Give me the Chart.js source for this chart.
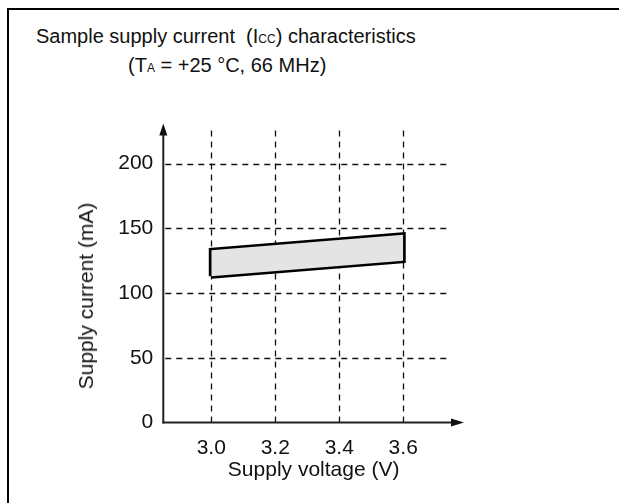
<!DOCTYPE html>
<html>
<head>
<meta charset="utf-8">
<script src="https://cdn.jsdelivr.net/npm/chart.js@4.4.1/dist/chart.umd.min.js"></script>
<style>
  html, body { margin: 0; padding: 0; background: #fff; }
  #wrap { position: relative; width: 619px; height: 503px; overflow: hidden;
          font-family: "Liberation Sans", Arial, sans-serif; color: #111; }
  #frame { position: absolute; left: 7px; top: 8px; width: 700px; height: 600px;
           border-left: 2px solid #000; border-top: 2px solid #000; }
  .ttl { position: absolute; font-size: 20px; white-space: nowrap; line-height: 24px; }
  #t1 { left: 36px; top: 24px; }
  #t2 { left: 128px; top: 53px; }
  .sm { font-size: 12px; }
  #ytit { position: absolute; left: 86px; top: 296px; font-size: 21px; white-space: nowrap;
          transform: translate(-50%, -50%) rotate(-90deg); }
  canvas { position: absolute; left: 0; top: 0; }
</style>
</head>
<body>
<div id="wrap">
  <div id="frame"></div>
  <div class="ttl" id="t1">Sample supply current &nbsp;(I<span class="sm">CC</span>) characteristics</div>
  <div class="ttl" id="t2">(T<span class="sm">A</span> = +25 °C, 66 MHz)</div>
  <canvas id="grafico" width="619" height="503"></canvas>
  <div id="ytit">Supply current (mA)</div>
</div>
<script>
// DATA
const voltages = [3.0, 3.6];
const currentMin = [113, 125];
const currentMax = [133, 145];
const xTicks = [3.0, 3.2, 3.4, 3.6];
const yTicks = [0, 50, 100, 150, 200];

// axis ranges (arrow tips and end of dashed grid)
const xMin = 2.85, xMax = 3.79, xGridEnd = 3.74;
const yMin = 0, yMax = 231, yGridEnd = 225.5;

const fonte = "'Liberation Sans', Arial, sans-serif";
const ink = "#111";

let baixo = voltages.map((v, i) => ({ x: v, y: currentMin[i] }));
let alto = voltages.map((v, i) => ({ x: v, y: currentMax[i] }));
// contorno fechado da faixa
let contorno = [baixo[0], baixo[1], alto[1], alto[0], baixo[0]];

function linha(ctx, a, b, c, d) {
  ctx.beginPath();
  ctx.moveTo(a, b);
  ctx.lineTo(c, d);
  ctx.stroke();
}

const decor = {
  id: "decor",
  beforeDatasetsDraw(chart) {
    const { ctx, scales: { x, y } } = chart;
    ctx.save();
    ctx.strokeStyle = ink;
    ctx.lineWidth = 1.3;
    ctx.setLineDash([6, 5]);
    const x0 = x.getPixelForValue(xMin);
    const x1 = x.getPixelForValue(xGridEnd);
    yTicks.filter(v => v > 0).forEach(v => {
      const py = Math.round(y.getPixelForValue(v)) + 0.5;
      linha(ctx, x0 + 2, py, x1, py);
    });
    const y0 = y.getPixelForValue(yMin);
    const y1 = y.getPixelForValue(yGridEnd);
    xTicks.forEach(v => {
      const px = Math.round(x.getPixelForValue(v)) + 0.5;
      linha(ctx, px, y0, px, y1);
    });
    ctx.restore();
  },
  afterDatasetsDraw(chart) {
    const { ctx, scales: { x, y } } = chart;
    const ox = x.getPixelForValue(xMin);
    const oy = y.getPixelForValue(yMin);
    const tx = x.getPixelForValue(xMax);
    const ty = y.getPixelForValue(yMax);
    ctx.save();
    ctx.strokeStyle = "#222";
    ctx.fillStyle = "#111";
    ctx.lineWidth = 2;
    linha(ctx, ox, oy + 1, ox, ty + 8);
    linha(ctx, ox - 1, oy, tx - 10, oy);
    // setas
    ctx.beginPath();
    ctx.moveTo(ox, ty);
    ctx.lineTo(ox - 4, ty + 12);
    ctx.lineTo(ox + 4, ty + 12);
    ctx.closePath();
    ctx.fill();
    ctx.beginPath();
    ctx.moveTo(tx, oy);
    ctx.lineTo(tx - 13, oy - 4);
    ctx.lineTo(tx - 13, oy + 4);
    ctx.closePath();
    ctx.fill();
    ctx.restore();
  }
};

let ctx = document.getElementById("grafico").getContext("2d");

new Chart(ctx, {
  type: "line",
  data: {
    datasets: [
      { data: baixo, borderWidth: 1, borderColor: "rgba(0,0,0,0)", pointRadius: 0, fill: false },
      { data: alto, borderWidth: 1, borderColor: "rgba(0,0,0,0)", pointRadius: 0,
        fill: "-1", backgroundColor: "#e4e4e4" },
      { data: contorno, borderWidth: 5, borderColor: "#000", borderJoinStyle: "miter",
        pointRadius: 0, fill: false, tension: 0, clip: false }
    ]
  },
  options: {
    responsive: false,
    animation: false,
    events: [],
    layout: { padding: { left: 60, right: 155, top: 123.5, bottom: 20 } },
    plugins: { legend: { display: false }, tooltip: { enabled: false }, title: { display: false } },
    scales: {
      x: {
        type: "linear",
        min: xMin,
        max: xMax,
        afterBuildTicks: s => { s.ticks = xTicks.map(v => ({ value: v })); },
        afterFit: s => { s.height = 60.5; },
        grid: { display: false, drawTicks: false },
        border: { display: false },
        ticks: { color: ink, font: { size: 21, family: fonte }, padding: 13, maxRotation: 0,
                 autoSkip: false, callback: v => Number(v).toFixed(1) },
        title: { display: true, text: "Supply voltage (V)", color: ink,
                 font: { size: 21, family: fonte }, padding: 0 }
      },
      y: {
        type: "linear",
        min: yMin,
        max: yMax,
        afterBuildTicks: s => { s.ticks = yTicks.map(v => ({ value: v })); },
        afterFit: s => { s.width = 103.3; },
        grid: { display: false, drawTicks: false },
        border: { display: false },
        ticks: { color: ink, font: { size: 21, family: fonte }, padding: 10, autoSkip: false },
        title: { display: false }
      }
    }
  },
  plugins: [decor]
});
</script>
</body>
</html>
